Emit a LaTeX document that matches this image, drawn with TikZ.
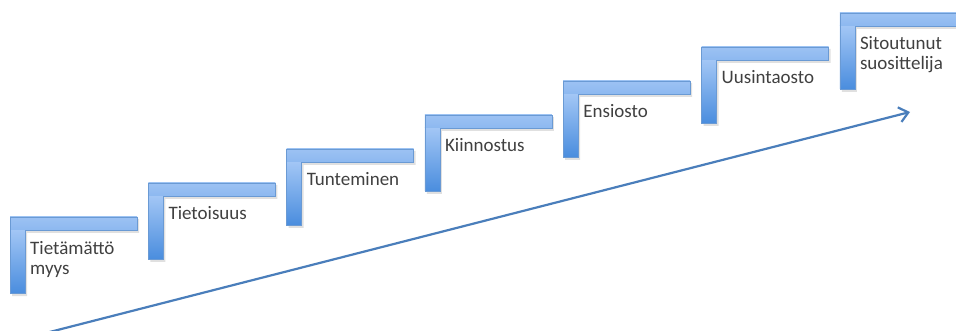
\documentclass[tikz,border=0pt]{standalone}
\usepackage{fontspec}
\setmainfont{Carlito}
\usetikzlibrary{arrows.meta}
\definecolor{barlight}{HTML}{9CC2F3}
\definecolor{barmid}{HTML}{8DB8F0}
\definecolor{vtop}{HTML}{A2C6F5}
\definecolor{bardark}{HTML}{4A8DDE}
\definecolor{baredge}{HTML}{6A9AD4}
\definecolor{arrowblue}{HTML}{4A7EBB}
\definecolor{labeltext}{HTML}{404040}
\tikzset{
  steplabel/.style={anchor=base west, inner sep=0pt, font=\fontsize{19}{20}\selectfont,
    text=labeltext, align=left},
  trendarrow/.style={draw=arrowblue, line width=2.2pt, -{Straight Barb[length=9pt,width=15pt,line width=2.2pt]}}
}
\newcommand{\stairstep}[3]{%
  % #1 left x, #2 top y, #3 name
  \fill[black, opacity=0.12] (#1+2,#2+2) -- (#1+129,#2+2) -- (#1+129,#2+16) -- (#1+17,#2+16) -- (#1+17,#2+79) -- (#1+2,#2+79) -- cycle;
  \shade[top color=vtop, bottom color=bardark] (#1,#2+13) rectangle (#1+15,#2+76);
  \shade[top color=barlight, bottom color=barmid] (#1,#2) rectangle (#1+127,#2+13);
  \draw[baredge, line width=0.5pt] (#1,#2) -- (#1+127,#2) -- (#1+127,#2+13) -- (#1+15,#2+13) -- (#1+15,#2+76) -- (#1,#2+76) -- cycle;
  \coordinate (#3) at (#1+20,#2+37);
}
\begin{document}
\begin{tikzpicture}[x=1pt,y=-1pt]
\useasboundingbox (0,0) rectangle (956,331);
\stairstep{10}{217}{s1}
\stairstep{148.3}{183}{s2}
\stairstep{286.6}{149}{s3}
\stairstep{424.9}{115}{s4}
\stairstep{563.2}{81}{s5}
\stairstep{701.5}{47}{s6}
\stairstep{839.8}{13}{s7}
\node[steplabel] (t1) at ([yshift=-20pt]s1) {Tietämättö\\myys};
\node[steplabel] (t2) at (s2) {Tietoisuus};
\node[steplabel] (t3) at (s3) {Tunteminen};
\node[steplabel] (t4) at (s4) {Kiinnostus};
\node[steplabel] (t5) at (s5) {Ensiosto};
\node[steplabel] (t6) at (s6) {Uusintaosto};
\node[steplabel] (t7) at ([yshift=-20pt]s7) {Sitoutunut\\suosittelija};
\coordinate (atail) at (38,335);
\coordinate (ahead) at (910,112);
\draw[trendarrow] (atail) -- (ahead);
\end{tikzpicture}
\end{document}
